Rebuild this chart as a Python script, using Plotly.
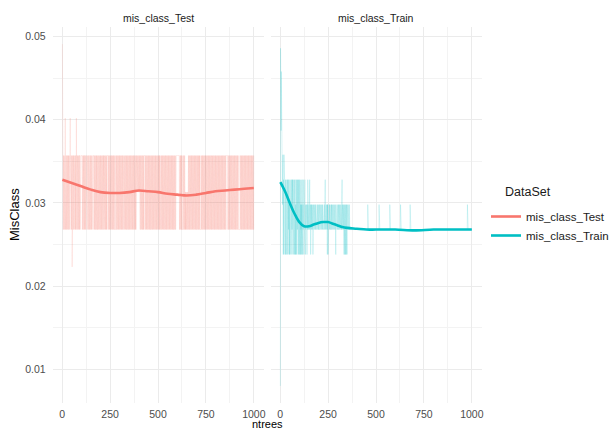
import plotly.graph_objects as go

# ---------------- data ----------------
# per-tree misclassification, one code per tree (spaces only group 5 trees)
test_levels = {"5": 0.0223, "6": 0.0268, "7": 0.0313, "8": 0.0357, "9": 0.0402, "b": 0.0491}
test_codes = """
b7878 68686 86868 98686 86868 68686 86868 68686 89868 68686
85868 68686 86868 66868 68698 86868 68686 86866 88868 68888
88886 86868 68668 86868 68686 86688 68686 86868 66886 86868
68686 86888 88886 86868 68686 86868 68866 86868 68686 86868
68686 86868 68686 86686 86868 68686 86888 88868 68686 86868
68686 86868 68686 86868 68666 66686 86868 68686 86868 68686
86868 68686 86868 68686 88686 86868 68686 86868 68686 86868
68686 86868 68686 86868 68686 86868 68686 87878 78787 87878
78787 86868 68686 86868 68686 88888 86868 68686 86868 68686
86868 68686 86868 68686 86868 68686 86868 68686 86868 68686
86868 68686 66868 68686 86868 68686 86868 68686 86868 68686
86868 68686 86868 68686 86868 68686 86868 68686 86888 88888
88888 88888 86868 68686 86668 66666 86868 68686 86767 67676
76767 67686 86868 68686 86868 68686 86868 68686 86868 68686
86868 68686 86868 68666 66686 86868 68686 86868 68686 86868
68686 86868 68686 86868 68686 86868 68686 86868 68686 86868
68686 86868 68686 86868 68686 86868 68686 86868 68686 86868
68686 88888 88868 68686 86868 68686 86868 68686 86868 68686
86868 68686 86868 68686 66666 66868 68686 86868 68686 86868
68686 86868 68686 86868 68686 86868 68686 86868 68686 86868
"""

train_levels = {"L": 0.0080, "8": 0.0238, "9": 0.0268, "a": 0.0298, "b": 0.0328,
                "c": 0.0358, "d": 0.0387, "e": 0.0417, "W": 0.0458, "X": 0.0486}
train_codes = """
LXWcd Wcbdc ba8cb 8ab8c a8b9a 8ab8a 9ba8b a9b8a b8a9b 8a8b9
b8a8b 9b8a8 b9a8b 8b9a8 a8b8a 9b8b8 a8b9a 8b8a9 b8a8b 9a8b8
a8b9a 8a9b8 a9a8b 9a8a9 b9a8a 9a9b9 a8a9a 9a9a8 9a9b9 a9a9a
9a9b9 a9a8a 9a9a9 9a9a9 8a9a9 99a99 a9a99 9a9a9 99a99 a9a99
9a9a9 99a9a 99a99 a9a99 9a9a9 99a99 a9a9b 9a99a 9a9a9 8a9a8
9a99a 9a9a9 99a9a 99a9a 9a99a 9a9a9 9a99a 9a9a8 9a99a 99a9a
9a9a9 99a9a 9a99a 9a9a9 a9b9a 9a99a 9a8a9 a8a9a 8a9a8 a9a8a
9a99a 99999 a9999 99999 99999 99999 99999 99999 99999 99999
99999 99999 99999 99999 99999 99999 99999 99999 99999 99999
99999 9a999 99999 99999 99999 99999 99999 99999 99999 99999
99999 99999 99999 a9999 99999 99999 99999 99999 99999 99999
99999 99999 99999 99999 9a999 99999 99999 99999 99999 99999
99999 99999 99999 99999 99999 99a99 99999 99999 99999 99999
99999 99999 99999 99999 99999 99a99 99999 99999 99999 99999
99999 99999 99999 99999 99999 99999 99999 99999 99999 99999
99999 99999 99999 99999 99999 99999 99999 99999 99999 99999
99999 99999 99999 99999 99999 99999 99999 99999 99999 99999
99999 99999 99999 99999 99999 99999 99999 99999 99999 99999
99999 99999 99999 99999 99999 99999 99999 99999 99999 99999
99999 99999 99999 99999 99999 9a999 99999 99999 99999 99999
"""

# smoothed curves
smooth_x_test = [1, 50, 100, 150, 200, 250, 300, 350, 400, 450, 500, 550, 600, 650,
                 700, 750, 800, 850, 900, 950, 1000]
smooth_test = [0.0328, 0.0324, 0.0320, 0.0316, 0.0313, 0.0312, 0.0312, 0.0313, 0.0315,
               0.0314, 0.0313, 0.0311, 0.0310, 0.0309, 0.0310, 0.0312, 0.0314, 0.0315,
               0.0316, 0.0317, 0.0318]
smooth_x_train = [1, 25, 50, 75, 100, 125, 150, 175, 200, 225, 250, 275, 300, 325, 350,
                  400, 450, 500, 600, 700, 800, 900, 1000]
smooth_train = [0.0325, 0.0314, 0.0300, 0.0287, 0.0277, 0.0272, 0.0272, 0.0274, 0.0276,
                0.0277, 0.0277, 0.0275, 0.0273, 0.0271, 0.0270, 0.0269, 0.0268, 0.0268,
                0.0268, 0.0267, 0.0268, 0.0268, 0.0268]

series_names = ["mis_class_Test", "mis_class_Train"]
x_ticks = [0, 250, 500, 750, 1000]
x_minor = [125, 375, 625, 875]
y_ticks = [0.01, 0.02, 0.03, 0.04, 0.05]
y_minor = [0.015, 0.025, 0.035, 0.045]
y_tick_labels = ["0.01", "0.02", "0.03", "0.04", "0.05"]

# ---------------- build ----------------
def decode(codes, levels):
    vals = [levels[c] for c in codes if not c.isspace()]
    return list(range(1, len(vals) + 1)), vals

tx, ty = decode(test_codes, test_levels)
rx, ry = decode(train_codes, train_levels)

col_test = "#F8766D"
col_train = "#00BFC4"
FONT = "Liberation Sans, Arial, Helvetica, sans-serif"
TICK_FONT = dict(family=FONT, size=10.5, color="#4D4D4D")

W, H = 609, 432
dom_l = [52.6 / W, 263.6 / W]
dom_r = [270.6 / W, 481.6 / W]
y_dom = [(H - 403) / H, (H - 27) / H]
xrange = [-49.95, 1050.95]
yrange = [0.005945, 0.051155]

fig = go.Figure()
fig.add_trace(go.Scatter(x=tx, y=ty, mode="lines", xaxis="x", yaxis="y",
                         line=dict(color="rgba(248,118,109,0.18)", width=0.8),
                         showlegend=False, hoverinfo="skip"))
fig.add_trace(go.Scatter(x=rx, y=ry, mode="lines", xaxis="x2", yaxis="y2",
                         line=dict(color="rgba(0,191,196,0.2)", width=0.8),
                         showlegend=False, hoverinfo="skip"))
fig.add_trace(go.Scatter(x=smooth_x_test, y=smooth_test, mode="lines", xaxis="x", yaxis="y",
                         line=dict(color=col_test, width=2.6, shape="spline"),
                         name=series_names[0]))
fig.add_trace(go.Scatter(x=smooth_x_train, y=smooth_train, mode="lines", xaxis="x2", yaxis="y2",
                         line=dict(color=col_train, width=2.6, shape="spline"),
                         name=series_names[1]))

def xaxis(domain, anchor):
    return dict(domain=domain, anchor=anchor, range=xrange, tickmode="array",
                tickvals=x_ticks, ticktext=[str(v) for v in x_ticks],
                showgrid=True, gridcolor="#EBEBEB", gridwidth=1, zeroline=False,
                showline=False, ticks="", tickfont=TICK_FONT, automargin=False,
                ticklabelstandoff=3,
                minor=dict(tickvals=x_minor, showgrid=True, gridcolor="#F3F3F3", gridwidth=0.6),
                fixedrange=True)

def yaxis(anchor, labels):
    return dict(domain=y_dom, anchor=anchor, range=yrange, tickmode="array",
                tickvals=y_ticks, ticktext=y_tick_labels, showticklabels=labels,
                showgrid=True, gridcolor="#EBEBEB", gridwidth=1, zeroline=False,
                showline=False, ticks="", tickfont=TICK_FONT, automargin=False,
                ticklabelstandoff=6,
                minor=dict(tickvals=y_minor, showgrid=True, gridcolor="#F3F3F3", gridwidth=0.6),
                fixedrange=True)

fig.update_layout(
    width=W, height=H,
    margin=dict(l=0, r=0, t=0, b=0, autoexpand=False),
    paper_bgcolor="white", plot_bgcolor="white",
    font=dict(family=FONT, color="#1A1A1A"),
    xaxis=xaxis(dom_l, "y"),
    xaxis2=xaxis(dom_r, "y2"),
    yaxis=yaxis("x", True),
    yaxis2=yaxis("x2", False),
    legend=dict(x=486 / W, y=(H - 202) / H, xanchor="left", yanchor="top",
                bgcolor="rgba(0,0,0,0)", font=dict(family=FONT, size=11.5, color="#1A1A1A"),
                tracegroupgap=0, itemwidth=30),
    showlegend=True,
)

annotations = [
    dict(text=series_names[0], x=(dom_l[0] + dom_l[1]) / 2, y=(H - 17.5) / H,
         xref="paper", yref="paper", showarrow=False, xanchor="center", yanchor="middle",
         font=dict(family=FONT, size=10.5, color="#1A1A1A")),
    dict(text=series_names[1], x=(dom_r[0] + dom_r[1]) / 2, y=(H - 17.5) / H,
         xref="paper", yref="paper", showarrow=False, xanchor="center", yanchor="middle",
         font=dict(family=FONT, size=10.5, color="#1A1A1A")),
    dict(text="DataSet", x=503 / W, y=(H - 192) / H, xref="paper", yref="paper",
         showarrow=False, xanchor="left", yanchor="middle",
         font=dict(family=FONT, size=12.5, color="#1A1A1A")),
    dict(text="MisClass", x=14 / W, y=(H - 215) / H, xref="paper", yref="paper",
         showarrow=False, textangle=-90, xanchor="center", yanchor="middle",
         font=dict(family=FONT, size=13, color="#000000")),
    dict(text="ntrees", x=267 / W, y=0, xref="paper", yref="paper",
         showarrow=False, xanchor="center", yanchor="bottom",
         font=dict(family=FONT, size=11, color="#000000")),
]
fig.update_layout(annotations=annotations)

fig.write_html("out.html", config={"displayModeBar": False},
               post_script="document.body.style.margin='0';")
